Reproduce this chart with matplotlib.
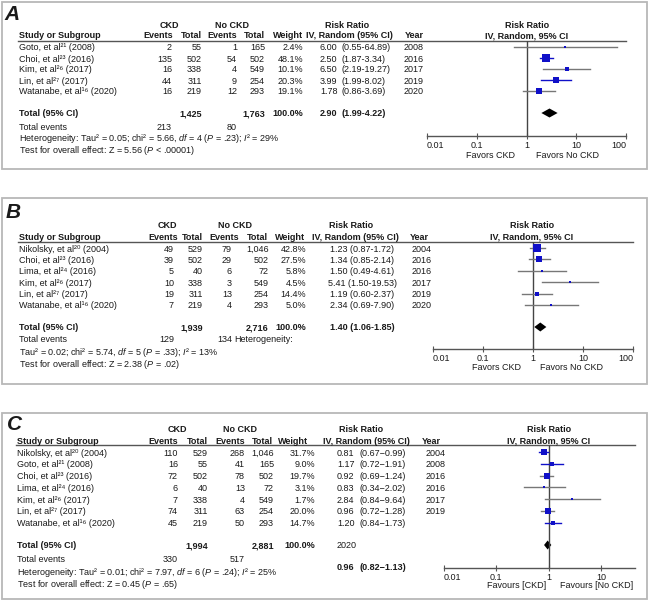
import matplotlib
matplotlib.use('Agg')
import matplotlib.pyplot as plt
from matplotlib.patches import Rectangle
from matplotlib.ticker import NullLocator

plt.rcParams['font.family'] = ['Liberation Sans', 'DejaVu Sans']
plt.rcParams['mathtext.fontset'] = 'custom'
plt.rcParams['mathtext.rm'] = 'Liberation Sans'
plt.rcParams['mathtext.it'] = 'Liberation Sans:italic'
plt.rcParams['mathtext.bf'] = 'Liberation Sans:bold'

W, H = 649, 600
FS = 6.5

# ---------------- data: panel A ----------------
A_studies = ['Goto, et al²¹ (2008)', 'Choi, et al²³ (2016)', 'Kim, et al²⁶ (2017)',
             'Lin, et al²⁷ (2017)', 'Watanabe, et al¹⁶ (2020)']
A_ckd_events = [2, 135, 16, 44, 16]
A_ckd_total = [55, 502, 338, 311, 219]
A_nockd_events = [1, 54, 4, 9, 12]
A_nockd_total = [165, 502, 549, 254, 293]
A_weight = [2.4, 48.1, 10.1, 20.3, 19.1]
A_rr = [6.00, 2.50, 6.50, 3.99, 1.78]
A_lo = [0.55, 1.87, 2.19, 1.99, 0.86]
A_hi = [64.89, 3.34, 19.27, 8.02, 3.69]
A_year = [2008, 2016, 2017, 2019, 2020]
A_total = [2.90, 1.99, 4.22]
A_total_n = [1425, 1763]
A_total_events = [213, 80]
A_het = 'Heterogeneity: Tau² = 0.05; chi² = 5.66, $\\mathit{df}$ = 4 ($\\mathit{P}$ = .23); $\\mathit{I}$² = 29%'
A_test = 'Test for overall effect: Z = 5.56 ($\\mathit{P}$ < .00001)'

# ---------------- data: panel B ----------------
B_studies = ['Nikolsky, et al²⁰ (2004)', 'Choi, et al²³ (2016)', 'Lima, et al²⁴ (2016)',
             'Kim, et al²⁶ (2017)', 'Lin, et al²⁷ (2017)', 'Watanabe, et al¹⁶ (2020)']
B_ckd_events = [49, 39, 5, 10, 19, 7]
B_ckd_total = [529, 502, 40, 338, 311, 219]
B_nockd_events = [79, 29, 6, 3, 13, 4]
B_nockd_total = [1046, 502, 72, 549, 254, 293]
B_weight = [42.8, 27.5, 5.8, 4.5, 14.4, 5.0]
B_rr = [1.23, 1.34, 1.50, 5.41, 1.19, 2.34]
B_lo = [0.87, 0.85, 0.49, 1.50, 0.60, 0.69]
B_hi = [1.72, 2.14, 4.61, 19.53, 2.37, 7.90]
B_year = [2004, 2016, 2016, 2017, 2019, 2020]
B_total = [1.40, 1.06, 1.85]
B_total_n = [1939, 2716]
B_total_events = [129, 134]
B_het = 'Tau² = 0.02; chi² = 5.74, $\\mathit{df}$ = 5 ($\\mathit{P}$ = .33); $\\mathit{I}$² = 13%'
B_test = 'Test for overall effect: Z = 2.38 ($\\mathit{P}$ = .02)'

# ---------------- data: panel C ----------------
C_studies = ['Nikolsky, et al²⁰ (2004)', 'Goto, et al²¹ (2008)', 'Choi, et al²³ (2016)',
             'Lima, et al²⁴ (2016)', 'Kim, et al²⁶ (2017)', 'Lin, et al²⁷ (2017)',
             'Watanabe, et al¹⁶ (2020)']
C_ckd_events = [110, 16, 72, 6, 7, 74, 45]
C_ckd_total = [529, 55, 502, 40, 338, 311, 219]
C_nockd_events = [268, 41, 78, 13, 4, 63, 50]
C_nockd_total = [1046, 165, 502, 72, 549, 254, 293]
C_weight = [31.7, 9.0, 19.7, 3.1, 1.7, 20.0, 14.7]
C_rr = [0.81, 1.17, 0.92, 0.83, 2.84, 0.96, 1.20]
C_lo = [0.67, 0.72, 0.69, 0.34, 0.84, 0.72, 0.84]
C_hi = [0.99, 1.91, 1.24, 2.02, 9.64, 1.28, 1.73]
C_year = [2004, 2008, 2016, 2016, 2017, 2019, 2020]
C_total = [0.96, 0.82, 1.13]
C_total_n = [1994, 2881]
C_total_events = [330, 517]
C_het = 'Heterogeneity: Tau² = 0.01; chi² = 7.97, $\\mathit{df}$ = 6 ($\\mathit{P}$ = .24); $\\mathit{I}$² = 25%'
C_test = 'Test for overall effect: Z = 0.45 ($\\mathit{P}$ = .65)'

BLUE = '#1010c8'
TXT = '#1a1a1a'


def txt(ax, x, y, s, ha='left', bold=False, size=FS, **kw):
    ax.text(x, y, s, ha=ha, va='center_baseline', fontsize=size, color=TXT,
            fontweight='bold' if bold else 'normal', **kw)


def rr_text(bg, lay, d, y, rr, lo, hi, bold=False):
    ci = f"({lo:.2f}{d['sep']}{hi:.2f})"
    if lay['ci_x'] is None:
        txt(bg, lay['rr_x'], y, f"{rr:.2f} {ci}", lay['rr_ha'], bold)
    else:
        txt(bg, lay['rr_x'], y, f"{rr:.2f}", 'left', bold)
        txt(bg, lay['ci_x'], y, ci, 'left', bold)


def draw_panel(fig, bg, d, lay):
    x0, y0, x1, y1 = lay['box']
    bg.add_patch(Rectangle((x0, y0), x1 - x0, y1 - y0, fill=False, ec='#b8b8b8', lw=1.3))
    bg.text(lay['letter'][0], lay['letter'][1], d['letter'], fontsize=15, fontweight='bold',
            fontstyle='italic', va='center', ha='left', color=TXT)

    n_ev1, n_tot1, n_ev2, n_tot2, n_wt = lay['nums']
    gy, hy = lay['group_y'], lay['head_y']

    # column headers
    txt(bg, lay['ckd_x'], gy, 'CKD', 'center', True)
    txt(bg, lay['nockd_x'], gy, 'No CKD', 'center', True)
    txt(bg, lay['rr_head'][0], gy, 'Risk Ratio', 'center', True)
    txt(bg, lay['study_x'], hy, 'Study or Subgroup', 'left', True)
    for x, s in zip(lay['heads'], ['Events', 'Total', 'Events', 'Total', 'Weight']):
        txt(bg, x, hy, s, 'center', True)
    txt(bg, lay['rr_head'][1], hy, 'IV, Random (95% CI)', 'center', True)
    txt(bg, lay['year_head'], hy, 'Year', 'center', True)
    txt(bg, lay['one_x'], gy, 'Risk Ratio', 'center', True)
    txt(bg, lay['one_x'], hy, 'IV, Random, 95% CI', 'center', True)
    bg.plot([lay['study_x'] - 1, lay['f_x1']], [lay['line_y'], lay['line_y']], color='#555555', lw=1)

    n = len(d['studies'])
    rows_y = [lay['row0'] + i * lay['dy'] for i in range(n)]
    for i, y in enumerate(rows_y):
        txt(bg, lay['study_x'], y, d['studies'][i])
        txt(bg, n_ev1, y, f"{d['ckd_events'][i]:,}", 'right')
        txt(bg, n_tot1, y, f"{d['ckd_total'][i]:,}", 'right')
        txt(bg, n_ev2, y, f"{d['nockd_events'][i]:,}", 'right')
        txt(bg, n_tot2, y, f"{d['nockd_total'][i]:,}", 'right')
        txt(bg, n_wt, y, f"{d['weight'][i]:.1f}%", 'right')
        rr_text(bg, lay, d, y, d['rr'][i], d['lo'][i], d['hi'][i])
        if not (d['year_to_total'] and i == n - 1):
            txt(bg, lay['year_x'], y, str(d['year'][i]))

    ty = lay['total_y']
    txt(bg, lay['study_x'], ty, 'Total (95% CI)', bold=True)
    txt(bg, n_tot1, ty, f"{d['total_n'][0]:,}", 'right', True)
    txt(bg, n_tot2, ty, f"{d['total_n'][1]:,}", 'right', True)
    txt(bg, n_wt, ty, '100.0%', 'right', True)
    if d['year_to_total']:
        txt(bg, lay['rr_x'], ty, str(d['year'][-1]))
        rr_text(bg, lay, d, lay['total_rr_y'], *d['total'], bold=True)
    else:
        rr_text(bg, lay, d, ty, *d['total'], bold=True)

    ey = lay['events_y']
    txt(bg, lay['study_x'], ey, 'Total events')
    txt(bg, n_ev1, ey, f"{d['total_events'][0]:,}", 'right')
    txt(bg, n_ev2, ey, f"{d['total_events'][1]:,}", 'right')
    if d['het_split']:
        txt(bg, n_ev2 + 2.5, ey, 'Heterogeneity:')
    txt(bg, lay['study_x'], lay['het_y'], d['het'])
    txt(bg, lay['study_x'], lay['test_y'], d['test'])

    # forest plot
    fx0, fx1 = lay['f_x0'], lay['f_x1']
    ay, ly = lay['axis_y'], lay['line_y']
    ax = fig.add_axes([fx0 / W, 1 - ay / H, (fx1 - fx0) / W, (ay - ly) / H])
    ax.set_xscale('log')
    ax.set_xlim(lay['xlim'])
    ax.set_ylim(ay, ly)
    ax.patch.set_alpha(0)
    for s in ['top', 'left', 'right']:
        ax.spines[s].set_visible(False)
    ax.spines['bottom'].set_color('#555555')
    ax.spines['bottom'].set_linewidth(1)
    ax.set_yticks([])
    ax.xaxis.set_minor_locator(NullLocator())
    ax.set_xticks(lay['ticks'])
    labels = ax.set_xticklabels([f'{t:g}' for t in lay['ticks']], fontsize=FS, color=TXT)
    labels[0].set_ha('left')
    if lay['last_right']:
        labels[-1].set_ha('right')
    ax.tick_params(axis='x', direction='inout', length=4, pad=1.5, color='#555555', width=0.8)
    ax.axvline(1, color='#444444', lw=1)

    for i, y in enumerate(rows_y):
        ax.plot([d['lo'][i], d['hi'][i]], [y, y], color=d['ci_color'][i], lw=1)
        side = max(2.6, 1.15 * d['weight'][i] ** 0.5) / 1.389
        ax.plot(d['rr'][i], y, 's', ms=side, color=BLUE, mec=BLUE, mew=0)
    r, lo, hi = d['total']
    dy = lay['diamond_h']
    ax.fill([lo, r, hi, r], [ty, ty - dy, ty, ty + dy], color='black', lw=0)

    fy_ = lay['fav_y']
    txt(bg, lay['fav_x'][0], fy_, d['fav'][0], 'center')
    txt(bg, lay['fav_x'][1], fy_, d['fav'][1], 'center')


def main():
    fig = plt.figure(figsize=(W / 100, H / 100), dpi=100)
    bg = fig.add_axes([0, 0, 1, 1])
    bg.set_xlim(0, W)
    bg.set_ylim(H, 0)
    bg.axis('off')

    G = '#777777'
    panel_a = dict(letter='A', studies=A_studies, ckd_events=A_ckd_events, ckd_total=A_ckd_total,
                   nockd_events=A_nockd_events, nockd_total=A_nockd_total, weight=A_weight,
                   rr=A_rr, lo=A_lo, hi=A_hi, year=A_year, total=A_total, total_n=A_total_n,
                   total_events=A_total_events, het=A_het, test=A_test, sep='-',
                   year_to_total=False, het_split=False, fav=['Favors CKD', 'Favors No CKD'],
                   ci_color=[G, BLUE, G, BLUE, G])
    lay_a = dict(box=(1.5, 1.5, 647, 169), letter=(4, 15), group_y=24, head_y=35, line_y=41,
                 ckd_x=169, nockd_x=232, heads=[158, 191, 222, 254, 288],
                 nums=[172, 202, 237, 265, 303], rr_head=(347, 349), year_head=414,
                 study_x=19, row0=47, dy=11, rr_x=320, ci_x=342, rr_ha='left', year_x=404,
                 total_y=113, events_y=126, het_y=136.5, test_y=148.5,
                 f_x0=427, f_x1=626, one_x=527, xlim=(0.01, 100), ticks=[0.01, 0.1, 1, 10, 100],
                 last_right=True, axis_y=136, diamond_h=4.5, fav_y=154, fav_x=(490, 567))
    draw_panel(fig, bg, panel_a, lay_a)

    panel_b = dict(letter='B', studies=B_studies, ckd_events=B_ckd_events, ckd_total=B_ckd_total,
                   nockd_events=B_nockd_events, nockd_total=B_nockd_total, weight=B_weight,
                   rr=B_rr, lo=B_lo, hi=B_hi, year=B_year, total=B_total, total_n=B_total_n,
                   total_events=B_total_events, het=B_het, test=B_test, sep='-',
                   year_to_total=False, het_split=True, fav=['Favors CKD', 'Favors No CKD'],
                   ci_color=[G] * 6)
    lay_b = dict(box=(1.5, 198, 647, 384), letter=(6, 213), group_y=224, head_y=236, line_y=242,
                 ckd_x=167, nockd_x=235, heads=[163, 192, 224, 257, 290],
                 nums=[174, 203, 232, 269, 306], rr_head=(351, 355), year_head=419,
                 study_x=19, row0=248, dy=11.4, rr_x=362, ci_x=None, rr_ha='center', year_x=412,
                 total_y=327, events_y=339, het_y=350.5, test_y=362.5,
                 f_x0=433, f_x1=633, one_x=532, xlim=(0.01, 100), ticks=[0.01, 0.1, 1, 10, 100],
                 last_right=True, axis_y=349, diamond_h=4.5, fav_y=366, fav_x=(496, 572))
    draw_panel(fig, bg, panel_b, lay_b)

    panel_c = dict(letter='C', studies=C_studies, ckd_events=C_ckd_events, ckd_total=C_ckd_total,
                   nockd_events=C_nockd_events, nockd_total=C_nockd_total, weight=C_weight,
                   rr=C_rr, lo=C_lo, hi=C_hi, year=C_year, total=C_total, total_n=C_total_n,
                   total_events=C_total_events, het=C_het, test=C_test, sep='\u2212',
                   year_to_total=True, het_split=False,
                   fav=['Favours [CKD]', 'Favours [No CKD]'],
                   ci_color=[BLUE, BLUE, G, G, G, G, BLUE])
    lay_c = dict(box=(1.5, 413, 647, 599), letter=(7, 425), group_y=428, head_y=440, line_y=445,
                 ckd_x=177, nockd_x=240, heads=[163, 197, 230, 262, 293],
                 nums=[178, 208, 245, 274, 315], rr_head=(361, 366), year_head=431,
                 study_x=17, row0=452, dy=11.8, rr_x=337, ci_x=360, rr_ha='left', year_x=426,
                 total_y=545, total_rr_y=567, events_y=558, het_y=570.5, test_y=582.5,
                 f_x0=444, f_x1=635, one_x=549, xlim=(0.01, 45), ticks=[0.01, 0.1, 1, 10],
                 last_right=False, axis_y=568, diamond_h=4.5, fav_y=584, fav_x=(517, 597))
    draw_panel(fig, bg, panel_c, lay_c)

    fig.savefig('out.png', dpi=100)
    plt.close(fig)


if __name__ == '__main__':
    main()
